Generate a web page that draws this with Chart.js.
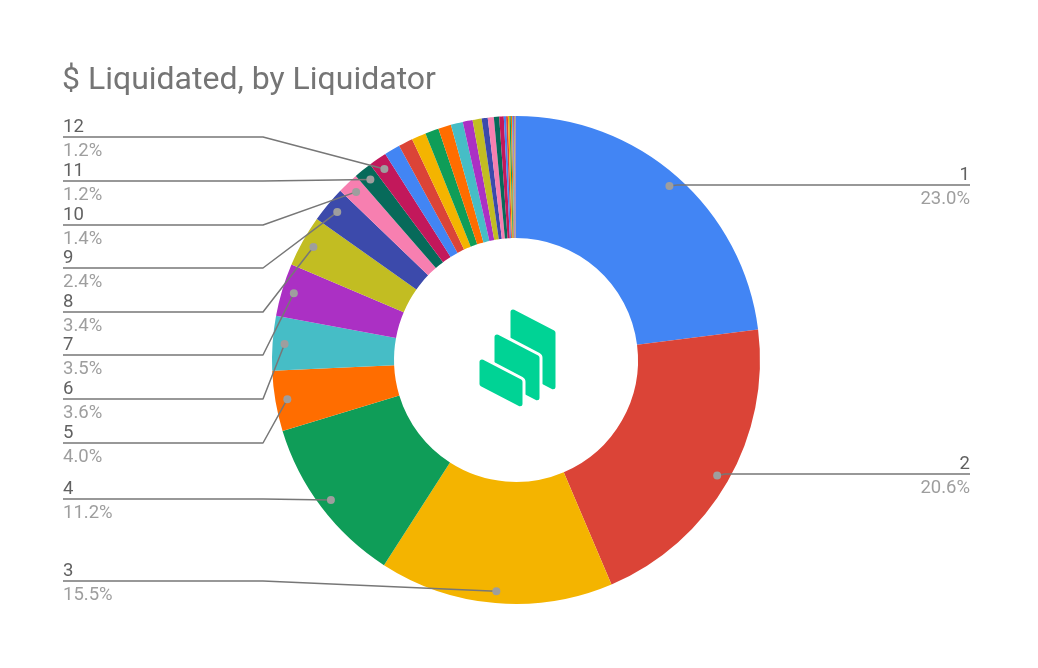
<!DOCTYPE html>
<html>
<head>
<meta charset="utf-8">
<script src="https://cdn.jsdelivr.net/npm/chart.js@4"></script>
<style>
  html, body { margin: 0; padding: 0; background: #fff; }
</style>
</head>
<body>
<canvas id="graficoRosca" width="1038" height="668"></canvas>
<script>
// liquidators, ranked by $ liquidated (share of total, %)
const liquidators = ['1', '2', '3', '4', '5', '6', '7', '8', '9', '10', '11', '12',
  '13', '14', '15', '16', '17', '18', '19', '20', '21', '22', '23', '24',
  '25', '26', '27', '28', '29', '30', '31', '32', '33', '34', '35'];
const shares = [23.0, 20.6, 15.5, 11.2, 4.0, 3.6, 3.5, 3.4, 2.4, 1.4, 1.2, 1.2,
  1.05, 0.95, 0.95, 0.9, 0.85, 0.8, 0.65, 0.6, 0.4, 0.4, 0.35, 0.3,
  0.15, 0.12, 0.1, 0.09, 0.08, 0.07, 0.06, 0.05, 0.04, 0.03, 0.01];
const labelledCount = 12;

const palette = ['#4285f4', '#db4437', '#f4b400', '#0f9d58', '#ff6d00', '#46bdc6',
  '#ab30c4', '#c2bd22', '#3c4aab', '#f77fb0', '#076a5a', '#c2185b'];

// where each label's leader line sits (layout only)
const labelLineY = [185, 474, 581, 499, 443, 399, 355, 312, 268, 225, 181, 137];

const calloutPlugin = {
  id: 'callouts',
  afterDraw(chart) {
    const c = chart.ctx;
    const meta = chart.getDatasetMeta(0);
    const total = shares.reduce((a, b) => a + b, 0);

    // title
    c.save();
    c.fillStyle = '#757575';
    c.font = '32px Roboto';
    c.textBaseline = 'alphabetic';
    c.textAlign = 'left';
    c.fillText('$ Liquidated, by Liquidator', 62, 89);

    // logo in the hole
    const arc0 = meta.data[0];
    const cx = arc0.x, cy = arc0.y;
    const slab = (x, yTop, w, h, white) => {
      const k = 0.52;
      c.beginPath();
      c.moveTo(x, yTop);
      c.lineTo(x + w, yTop + w * k);
      c.lineTo(x + w, yTop + w * k + h);
      c.lineTo(x, yTop + h);
      c.closePath();
      c.lineJoin = 'round';
      if (white) {
        c.strokeStyle = '#ffffff';
        c.lineWidth = 11;
        c.stroke();
      }
      c.strokeStyle = '#00d395';
      c.lineWidth = 5;
      c.stroke();
      c.fillStyle = '#00d395';
      c.fill();
    };
    slab(cx - 3, cy - 48, 40, 54, false);
    slab(cx - 19, cy - 23, 40, 40, true);
    slab(cx - 34, cy + 2, 38, 22, true);

    // leader lines + labels
    for (let i = 0; i < labelledCount; i++) {
      const el = meta.data[i];
      const mid = (el.startAngle + el.endAngle) / 2;
      const r = el.outerRadius - 12;
      const dx = el.x + r * Math.cos(mid);
      const dy = el.y + r * Math.sin(mid);
      const ly = labelLineY[i];
      const pct = (shares[i] / total * 100).toFixed(1) + '%';
      const right = Math.cos(mid) > 0;

      c.strokeStyle = '#777777';
      c.lineWidth = 1.5;
      c.beginPath();
      if (right) {
        c.moveTo(dx, dy);
        c.lineTo(dx + 8, ly);
        c.lineTo(970, ly);
      } else {
        c.moveTo(63, ly);
        c.lineTo(263, ly);
        c.lineTo(dx, dy);
      }
      c.stroke();

      c.fillStyle = '#9e9e9e';
      c.beginPath();
      c.arc(dx, dy, 4, 0, Math.PI * 2);
      c.fill();

      c.font = '18.5px Roboto';
      c.textAlign = right ? 'right' : 'left';
      const tx = right ? 970 : 63;
      c.fillStyle = '#616161';
      c.fillText(liquidators[i], tx, ly - 5);
      c.fillStyle = '#9e9e9e';
      c.fillText(pct, tx, ly + 19);
    }
    c.restore();
  }
};

const ctx = document.getElementById('graficoRosca').getContext('2d');
const graficoRosca = new Chart(ctx, {
  type: 'doughnut',
  data: {
    labels: liquidators,
    datasets: [{
      label: '$ Liquidated',
      data: shares,
      backgroundColor: shares.map((_, i) => palette[i % palette.length]),
      borderWidth: 0
    }]
  },
  options: {
    responsive: false,
    animation: false,
    cutout: '50%',
    layout: {
      padding: { left: 272, right: 278, top: 116, bottom: 64 }
    },
    plugins: {
      legend: { display: false },
      tooltip: { enabled: false },
      title: { display: false }
    }
  },
  plugins: [calloutPlugin]
});
</script>
</body>
</html>
